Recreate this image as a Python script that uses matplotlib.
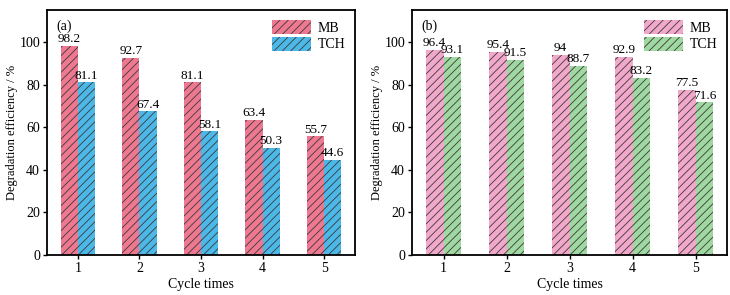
import matplotlib
matplotlib.use("Agg")
import matplotlib.pyplot as plt
import numpy as np

plt.rcParams['font.family'] = ['Liberation Serif', 'DejaVu Serif']
plt.rcParams['hatch.linewidth'] = 0.6

cycles = [1, 2, 3, 4, 5]
a_mb = [98.2, 92.7, 81.1, 63.4, 55.7]
a_tch = [81.1, 67.4, 58.1, 50.3, 44.6]
b_mb = [96.4, 95.4, 94, 92.9, 77.5]
b_tch = [93.1, 91.5, 88.7, 83.2, 71.6]
a_labels_mb = ["98.2", "92.7", "81.1", "63.4", "55.7"]
a_labels_tch = ["81.1", "67.4", "58.1", "50.3", "44.6"]
b_labels_mb = ["96.4", "95.4", "94", "92.9", "77.5"]
b_labels_tch = ["93.1", "91.5", "88.7", "83.2", "71.6"]

fig = plt.figure(figsize=(7.3, 2.95), dpi=100)
ax1 = fig.add_axes([47/730, 40/295, 308/730, 245/295])
ax2 = fig.add_axes([412/730, 40/295, 315/730, 245/295])

w = 0.28
def panel(ax, mb, tch, lmb, ltch, cmb, ctch, tag):
    x = np.array(cycles, dtype=float)
    ax.bar(x - w/2, mb, w, color=cmb, hatch='////', edgecolor='#3a3a3a', linewidth=0, label='MB')
    ax.bar(x + w/2, tch, w, color=ctch, hatch='////', edgecolor='#3a3a3a', linewidth=0, label='TCH')
    for xi, v, t in zip(x - w/2, mb, lmb):
        ax.text(xi, v + 0.3, t, ha='center', va='bottom', fontsize=9.5)
    for xi, v, t in zip(x + w/2, tch, ltch):
        ax.text(xi, v + 0.3, t, ha='center', va='bottom', fontsize=9.5)
    ax.set_xlim(0.5, 5.5)
    ax.set_ylim(0, 115)
    ax.set_xticks(cycles)
    ax.set_yticks([0, 20, 40, 60, 80, 100])
    ax.tick_params(labelsize=10, direction='out', length=3, width=1, pad=2)
    for s in ax.spines.values():
        s.set_linewidth(1.3)
    ax.set_xlabel('Cycle times', fontsize=10, labelpad=2)
    ax.set_ylabel('Degradation efficiency / %', fontsize=9, labelpad=1)
    ax.text(0.03, 0.96, tag, transform=ax.transAxes, ha='left', va='top', fontsize=10)
    ax.legend(loc='upper right', frameon=False, fontsize=10, handlelength=2.8, handleheight=1.2,
              borderaxespad=0.3, labelspacing=0.15, handletextpad=0.5)

panel(ax1, a_mb, a_tch, a_labels_mb, a_labels_tch, '#EE7890', '#4CB8E8', '(a)')
panel(ax2, b_mb, b_tch, b_labels_mb, b_labels_tch, '#F2A8CA', '#A0D8A2', '(b)')

fig.savefig('out.png', dpi=100)
